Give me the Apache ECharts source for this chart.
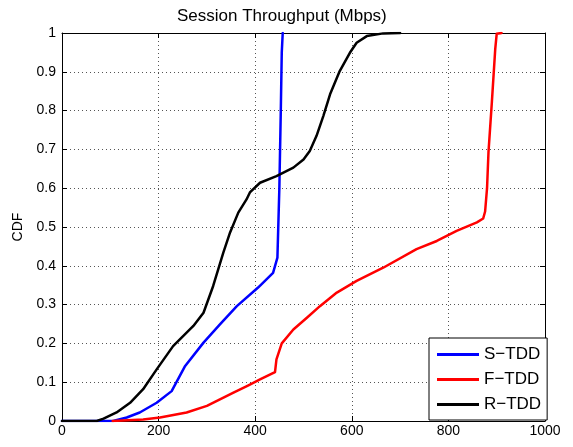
<!DOCTYPE html>
<html><head><meta charset="utf-8">
<script src="https://cdn.jsdelivr.net/npm/echarts@6/dist/echarts.min.js"></script>
<style>html,body{margin:0;padding:0;background:#fff}#c{width:573px;height:447px}</style>
</head><body><div id="c"></div>
<script>
const seriesNames = ['S\u2212TDD', 'F\u2212TDD', 'R\u2212TDD'];
const xTicks = [0, 200, 400, 600, 800, 1000];
const yTicks = [0, 0.1, 0.2, 0.3, 0.4, 0.5, 0.6, 0.7, 0.8, 0.9, 1];

const sX = [0, 106, 134, 161, 196, 227, 255, 293, 327, 362, 406, 437, 446, 450, 453, 455, 457];
const sY = [0, 0, 0.009, 0.022, 0.047, 0.077, 0.142, 0.202, 0.249, 0.296, 0.344, 0.382, 0.421, 0.6, 0.8, 0.95, 1.0];

const fX = [105, 168, 203, 258, 300, 327, 355, 386, 410, 441, 444, 455, 479, 507, 534, 569, 610, 665, 734, 776, 817, 859, 872, 876, 880, 883, 890, 897, 900, 910];
const fY = [0, 0.004, 0.009, 0.022, 0.039, 0.056, 0.073, 0.092, 0.107, 0.126, 0.159, 0.200, 0.236, 0.266, 0.296, 0.331, 0.361, 0.395, 0.443, 0.464, 0.490, 0.512, 0.522, 0.540, 0.600, 0.693, 0.822, 0.959, 0.998, 1.0];

const rX = [0, 72, 86, 113, 141, 168, 196, 230, 272, 293, 313, 334, 348, 365, 382, 389, 410, 444, 479, 500, 513, 527, 541, 555, 575, 596, 610, 631, 665, 700];
const rY = [0, 0, 0.006, 0.022, 0.047, 0.082, 0.133, 0.193, 0.245, 0.279, 0.348, 0.434, 0.486, 0.537, 0.571, 0.589, 0.614, 0.631, 0.653, 0.674, 0.696, 0.735, 0.786, 0.842, 0.902, 0.949, 0.975, 0.992, 0.999, 1.0];

const colors = ['#0000ff', '#ff0000', '#000000'];
const pairs = (xs, ys) => xs.map((x, i) => [x, ys[i]]);
const allData = [pairs(sX, sY), pairs(fX, fY), pairs(rX, rY)];

const font = 'Liberation Sans, Arial, Helvetica, sans-serif';
const chart = echarts.init(document.getElementById('c'), null, {renderer: 'canvas'});
const gridLine = {show: true, lineStyle: {color: '#555', type: [1, 3], width: 1}};
const tickIn = {show: true, inside: true, length: 5, lineStyle: {color: '#000'}};

chart.setOption({
  animation: false,
  backgroundColor: '#fff',
  title: {
    text: 'Session Throughput (Mbps)',
    left: 172, top: 3,
    textStyle: {fontFamily: font, fontSize: 17, fontWeight: 'normal', color: '#000'}
  },
  grid: {left: 62, right: 28, top: 33, bottom: 26, containLabel: false},
  legend: {
    data: seriesNames.map(n => ({name: n, icon: 'rect'})),
    orient: 'vertical',
    left: 429, top: 338,
    width: 118,
    backgroundColor: '#fff',
    borderColor: '#000', borderWidth: 1, borderRadius: 0,
    padding: [8, 6, 7, 8],
    itemWidth: 42, itemHeight: 3, itemGap: 8,
    textStyle: {fontFamily: font, fontSize: 17, color: '#000', padding: [0, 0, 0, 0]}
  },
  xAxis: [{
    type: 'value', min: 0, max: 1000, interval: 200,
    axisLine: {show: true, onZero: false, lineStyle: {color: '#000', width: 1}},
    axisTick: tickIn,
    axisLabel: {fontFamily: font, fontSize: 14, color: '#000', margin: 3,
      formatter: v => xTicks.includes(v) ? String(v) : ''},
    splitLine: gridLine
  }, {
    type: 'value', min: 0, max: 1000, interval: 200, position: 'top',
    axisLine: {show: true, onZero: false, lineStyle: {color: '#000', width: 1}},
    axisTick: tickIn, axisLabel: {show: false}, splitLine: {show: false}
  }],
  yAxis: [{
    type: 'value', min: 0, max: 1, interval: 0.1,
    name: 'CDF', nameLocation: 'middle', nameGap: 37, nameRotate: 90,
    nameTextStyle: {fontFamily: font, fontSize: 14, color: '#000'},
    axisLine: {show: true, onZero: false, lineStyle: {color: '#000', width: 1}},
    axisTick: tickIn,
    axisLabel: {fontFamily: font, fontSize: 14, color: '#000', margin: 6,
      formatter: v => { const t = yTicks.find(y => Math.abs(y - v) < 1e-6); return t === undefined ? '' : String(t); }},
    splitLine: gridLine
  }, {
    type: 'value', min: 0, max: 1, interval: 0.1, position: 'right',
    axisLine: {show: true, onZero: false, lineStyle: {color: '#000', width: 1}},
    axisTick: tickIn, axisLabel: {show: false}, splitLine: {show: false}
  }],
  series: seriesNames.map((n, i) => ({
    name: n, type: 'line', data: allData[i],
    xAxisIndex: 0, yAxisIndex: 0,
    symbol: 'none', smooth: false,
    lineStyle: {color: colors[i], width: 2.5, join: 'round', cap: 'round'},
    itemStyle: {color: colors[i]}
  }))
});
</script></body></html>
